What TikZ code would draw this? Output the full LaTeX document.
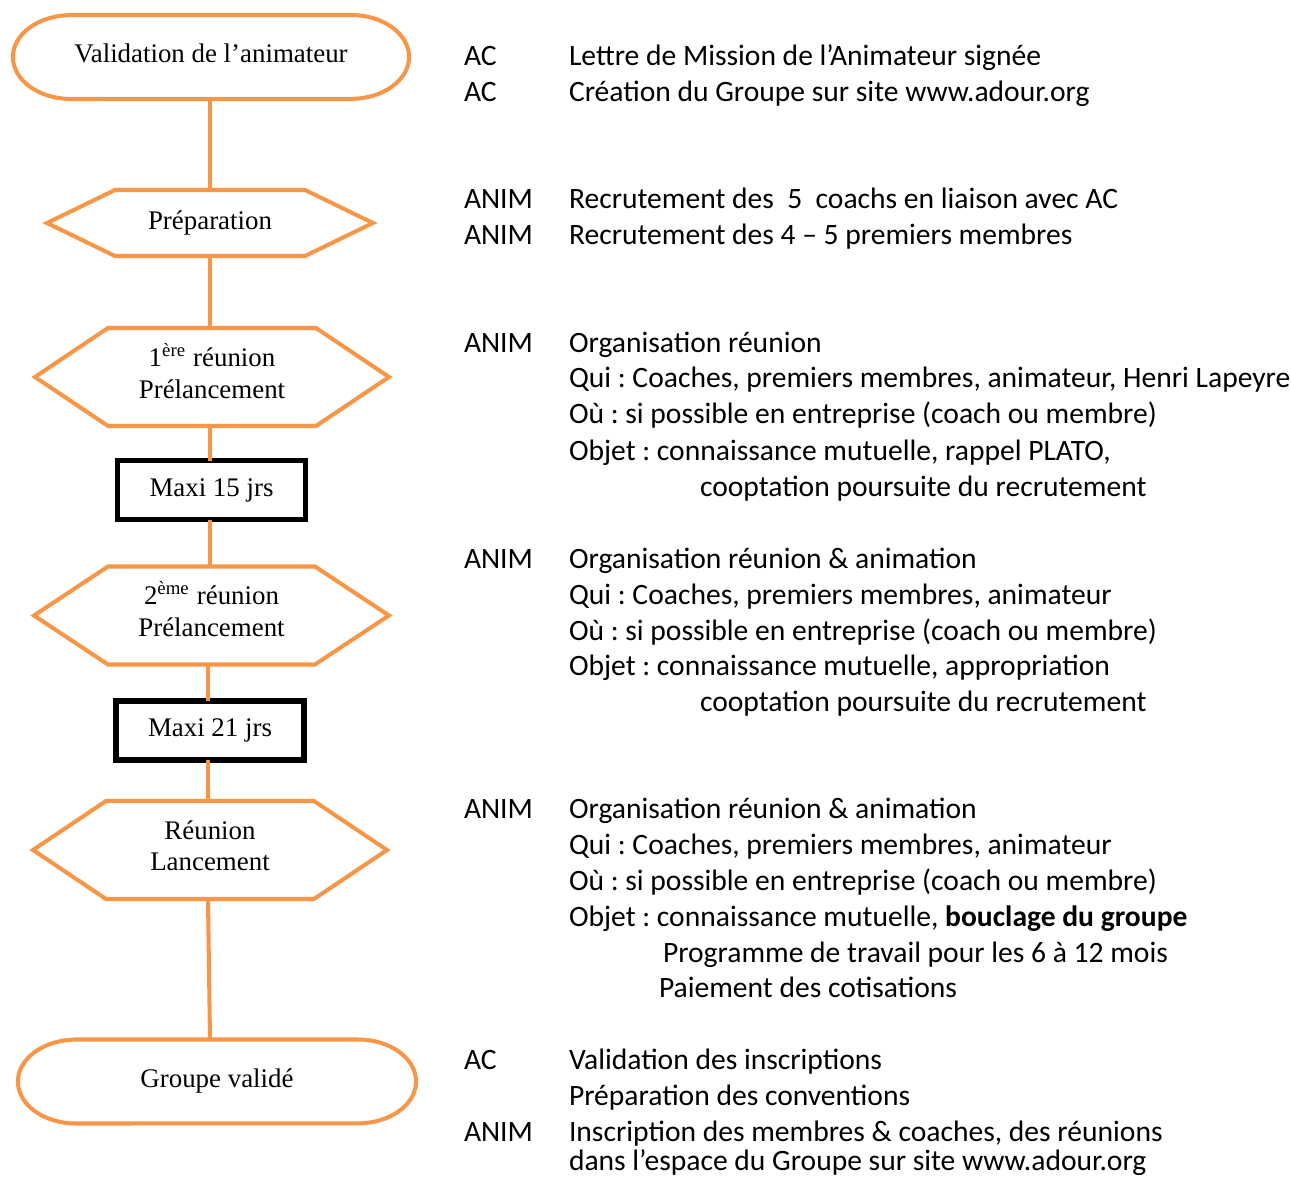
\documentclass[tikz,border=0pt]{standalone}
\usepackage{fontspec}
\setmainfont{Liberation Serif}
\newfontfamily\carlito{Carlito}
\usetikzlibrary{calc}
\definecolor{orng}{HTML}{F79646}
\frenchspacing
\tikzset{
  orline/.style={draw=orng, line width=1.5pt},
  conn/.style={draw=orng, line width=1.5pt},
  layout/.style={inner sep=0pt, outer sep=0pt, align=center, font=\fontsize{10}{12}\selectfont},
  blackbox/.style={draw=black, line width=1.9pt, inner sep=0pt, outer sep=0pt, font=\fontsize{10}{12}\selectfont, fill=white},
  lbl/.style={anchor=base west, inner sep=0pt, outer sep=0pt, font=\carlito\fontsize{11}{13}\selectfont}
}
\newcommand\hexshape[2]{%
  \draw[orline, line join=miter] (#1.west) -- ($(#1.north west)+(#2,0)$) -- ($(#1.north east)+(-#2,0)$) -- (#1.east)
     -- ($(#1.south east)+(-#2,0)$) -- ($(#1.south west)+(#2,0)$) -- cycle;}
\newcommand\termshape[1]{%
  \draw[orline] ($(#1.north west)+(58,0)$) -- ($(#1.north east)+(-58,0)$)
     arc[start angle=90, end angle=-90, x radius=21.6pt, y radius={\termry}]
     -- ($(#1.south west)+(58,0)$)
     arc[start angle=270, end angle=90, x radius=21.6pt, y radius={\termry}] -- cycle;}
\begin{document}
\begin{tikzpicture}[x=0.372pt, y=-0.372pt]
\useasboundingbox (0,0) rectangle (1291,1178);
\clip (0,0) rectangle (1291,1178);
\fill[white] (0,0) rectangle (1291,1178);

% flowchart nodes
\node[layout, minimum width=396*0.372pt, minimum height=84*0.372pt] (valid) at (211,57) {\raisebox{3pt}{Validation de l'animateur}};
\node[layout, minimum width=326*0.372pt, minimum height=66*0.372pt] (prep) at (210,223) {\raisebox{1pt}{Préparation}};
\node[layout, minimum width=354*0.372pt, minimum height=98*0.372pt] (r1) at (212,377) {\raisebox{4.5pt}{\shortstack{1\textsuperscript{ère} réunion\\[2pt]Prélancement}}};
\node[blackbox, minimum width=188*0.372pt, minimum height=59*0.372pt] (m15) at (211.5,490) {Maxi 15 jrs};
\node[layout, minimum width=355*0.372pt, minimum height=98*0.372pt] (r2) at (211.5,615.5) {\raisebox{4.7pt}{\shortstack{2\textsuperscript{ème} réunion\\[2pt]Prélancement}}};
\node[blackbox, minimum width=188*0.372pt, minimum height=59*0.372pt] (m21) at (210,730.5) {Maxi 21 jrs};
\node[layout, minimum width=354*0.372pt, minimum height=98*0.372pt] (lanc) at (210,850) {\raisebox{3pt}{\shortstack{Réunion\\[2pt]Lancement}}};
\node[layout, minimum width=398*0.372pt, minimum height=84*0.372pt] (grp) at (217,1081.5) {\raisebox{1.5pt}{Groupe validé}};

% shapes
\def\termry{15.6pt}
\termshape{valid}
\termshape{grp}
\hexshape{prep}{68}
\hexshape{r1}{73}
\hexshape{r2}{74}
\hexshape{lanc}{73}

% connectors
\draw[conn] (valid.south -| prep.north) -- (prep.north);
\draw[conn] (prep.south) -- (prep.south |- r1.north);
\draw[conn] (r1.south -| prep.south) -- (m15.north -| prep.south);
\draw[conn] (m15.south -| prep.south) -- (r2.north -| prep.south);
\draw[conn] ([xshift=-2*0.372pt]r2.south -| prep.south) -- ([xshift=-2*0.372pt]m21.north -| prep.south);
\draw[conn] ([xshift=-2*0.372pt]m21.south -| prep.south) -- ([xshift=-2*0.372pt]lanc.north -| prep.south);
\draw[conn] ([xshift=-2*0.372pt]lanc.south) -- (lanc.south |- grp.north);

% right column text
\node[lbl] (t1a) at (464,66) {AC};
\node[lbl] (t1b) at (569,66) {Lettre de Mission de l’Animateur signée};
\node[lbl] (t2a) at (464,102) {AC};
\node[lbl] (t2b) at (569,102) {Création du Groupe sur site www.adour.org};

\node[lbl] (t3a) at (464,209) {ANIM};
\node[lbl] (t3b) at (569,209) {Recrutement des \ 5 \ coachs en liaison avec AC};
\node[lbl] (t4a) at (464,245) {ANIM};
\node[lbl] (t4b) at (569,245) {Recrutement des 4 – 5 premiers membres};

\node[lbl] (t5a) at (464,353) {ANIM};
\node[lbl] (t5b) at (569,353) {Organisation réunion};
\node[lbl] (t6) at (569,388) {Qui : Coaches, premiers membres, animateur, Henri Lapeyre};
\node[lbl] (t7) at (569,424) {Où : si possible en entreprise (coach ou membre)};
\node[lbl] (t8) at (569,460) {Objet : connaissance mutuelle, rappel PLATO,};
\node[lbl] (t9) at (700,496) {cooptation poursuite du recrutement};

\node[lbl] (t10a) at (464,568) {ANIM};
\node[lbl] (t10b) at (569,568) {Organisation réunion \& animation};
\node[lbl] (t11) at (569,604) {Qui : Coaches, premiers membres, animateur};
\node[lbl] (t12) at (569,640) {Où : si possible en entreprise (coach ou membre)};
\node[lbl] (t13) at (569,675) {Objet : connaissance mutuelle, appropriation};
\node[lbl] (t14) at (700,711) {cooptation poursuite du recrutement};

\node[lbl] (t15a) at (464,818) {ANIM};
\node[lbl] (t15b) at (569,818) {Organisation réunion \& animation};
\node[lbl] (t16) at (569,854) {Qui : Coaches, premiers membres, animateur};
\node[lbl] (t17) at (569,890) {Où : si possible en entreprise (coach ou membre)};
\node[lbl] (t18) at (569,926) {Objet : connaissance mutuelle, \textbf{bouclage du groupe}};
\node[lbl] (t19) at (663,962) {Programme de travail pour les 6 à 12 mois};
\node[lbl] (t20) at (659,997) {Paiement des cotisations};

\node[lbl] (t21a) at (464,1069) {AC};
\node[lbl] (t21b) at (569,1069) {Validation des inscriptions};
\node[lbl] (t22) at (569,1105) {Préparation des conventions};
\node[lbl] (t23a) at (464,1141) {ANIM};
\node[lbl] (t23b) at (569,1141) {Inscription des membres \& coaches, des réunions};
\node[lbl] (t24) at (569,1170) {dans l’espace du Groupe sur site www.adour.org};
\end{tikzpicture}
\end{document}
